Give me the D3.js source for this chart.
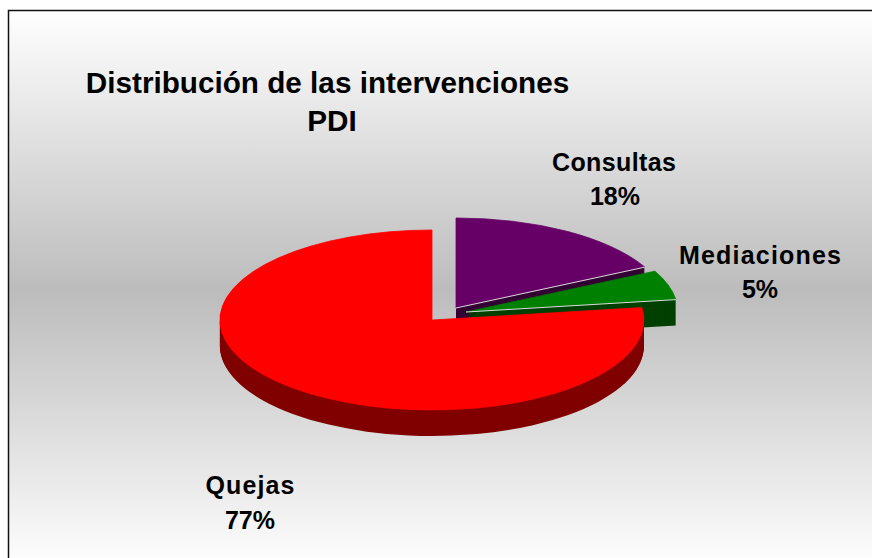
<!DOCTYPE html>
<html><head><meta charset="utf-8">
<script src="https://cdn.jsdelivr.net/npm/d3@7"></script>
<style>html,body{margin:0;padding:0;background:#fff}svg{display:block}
text{font-family:"Liberation Sans",Arial,sans-serif;font-weight:bold;fill:#000;text-anchor:middle}</style>
</head><body><svg id="c" width="872" height="558"></svg>
<script>
const categories = ["Consultas","Mediaciones","Quejas"];
const values = [17.5, 5.3, 77.2];
const shownPercent = ["18%","5%","77%"];
const titleLines = ["Distribución de las intervenciones","PDI"];
const topColors = ["#660066","#008000","#ff0000"];
const sideColors = ["#330033","#004000","#800000"];

const svg = d3.select("#c");
const defs = svg.append("defs");
const grad = defs.append("linearGradient").attr("id","bg").attr("x1",0).attr("y1",0).attr("x2",0).attr("y2",1);
grad.append("stop").attr("offset",0).attr("stop-color","#ffffff");
grad.append("stop").attr("offset",0.5).attr("stop-color","#bcbcbc");
grad.append("stop").attr("offset",1).attr("stop-color","#ffffff");
svg.append("rect").attr("x",8.5).attr("y",10.5).attr("width",880).attr("height",560)
  .attr("fill","url(#bg)").attr("stroke","#111").attr("stroke-width",1.5);

const rx = 212, ry = 90, depth = 26;
const centers = [[456,308],[466,312],[432,320]];
const pie = d3.pie().sort(null).value(d=>d)(values);
const arc = d3.arc().innerRadius(0).outerRadius(1);
const pt = (i,a)=>[centers[i][0]+rx*Math.sin(a), centers[i][1]-ry*Math.cos(a)];

pie.forEach((p,i)=>{
  const g = svg.append("g");
  g.selectAll("path.side").data(d3.range(depth,0,-1)).join("path").attr("class","side")
    .attr("d",arc(p)).attr("fill",sideColors[i])
    .attr("transform",d=>`translate(${centers[i][0]},${centers[i][1]+d}) scale(${rx},${ry})`);
  g.append("path").attr("d",arc(p)).attr("fill",topColors[i])
    .attr("stroke",topColors[i]).attr("stroke-width",0.8).attr("vector-effect","non-scaling-stroke")
    .attr("transform",`translate(${centers[i][0]},${centers[i][1]}) scale(${rx},${ry})`);
  if(i<2){
    const e = pt(i,p.endAngle);
    g.append("line").attr("x1",centers[i][0]).attr("y1",centers[i][1]).attr("x2",e[0]).attr("y2",e[1])
      .attr("stroke","#d8d8d8").attr("stroke-width",1);
  }
});

const title = svg.append("text").attr("font-size",29.7);
title.append("tspan").attr("x",327.5).attr("y",93).text(titleLines[0]);
title.append("tspan").attr("x",332).attr("y",131).text(titleLines[1]);

const labelPos = [[614,171,205],[760,264,298],[250,494,529]];
const labelWidths = [124,162,89];
const percentX = [615,760,250];
categories.forEach((c,i)=>{
  const t = svg.append("text").attr("font-size",25);
  t.append("tspan").attr("x",labelPos[i][0]).attr("y",labelPos[i][1])
    .attr("textLength",labelWidths[i]).attr("lengthAdjust","spacing").text(c);
  t.append("tspan").attr("x",percentX[i]).attr("y",labelPos[i][2]).text(shownPercent[i]);
});
</script></body></html>
